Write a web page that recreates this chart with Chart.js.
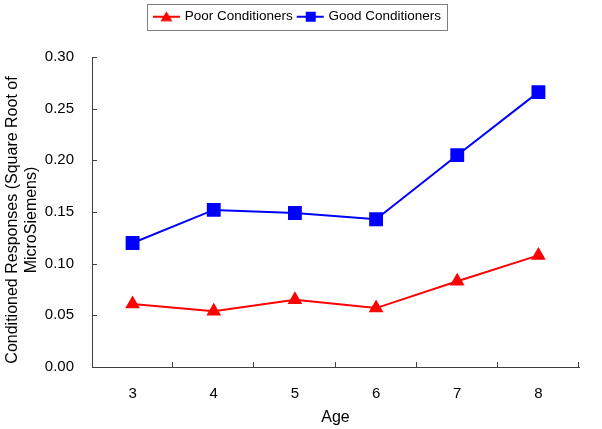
<!DOCTYPE html>
<html>
<head>
<meta charset="utf-8">
<script src="https://cdn.jsdelivr.net/npm/chart.js@4/dist/chart.umd.min.js"></script>
<style>
html,body{margin:0;padding:0;background:#fff;}
#wrap{width:602px;height:429px;}
</style>
</head>
<body>
<div id="wrap"><canvas id="c"></canvas></div>
<script>
const ages = ['3', '4', '5', '6', '7', '8'];
const poorConditioners = [0.061, 0.054, 0.065, 0.057, 0.083, 0.108];
const goodConditioners = [0.120, 0.152, 0.149, 0.143, 0.205, 0.266];
const seriesNames = ['Poor Conditioners', 'Good Conditioners'];
const yTitle = ['Conditioned Responses (Square Root of', 'MicroSiemens)'];
const xTitle = 'Age';

const FONT = 'Liberation Sans, Arial, sans-serif';

function legendIcon(color, shape) {
  const cv = document.createElement('canvas');
  cv.width = 30; cv.height = 14;
  const g = cv.getContext('2d');
  g.strokeStyle = color; g.lineWidth = 2;
  g.beginPath(); g.moveTo(1, 7); g.lineTo(28, 7); g.stroke();
  g.fillStyle = color;
  g.beginPath();
  if (shape === 'triangle') {
    g.moveTo(14.5, 1.5); g.lineTo(20.5, 11.5); g.lineTo(8.5, 11.5); g.closePath();
  } else {
    g.rect(10, 2, 10, 10);
  }
  g.fill();
  return cv;
}

const innerTicks = {
  id: 'innerTicks',
  beforeLayout(chart) {
    const lg = chart.legend;
    if (lg && !lg._patched) {
      const f = lg.fit.bind(lg);
      lg.fit = function () { f(); this.height = 54; };
      lg._patched = true;
    }
  },
  afterLayout(chart) {
    const lg = chart.legend;
    if (lg) { lg.left += 9; lg.right += 9; }
    const ys = chart.scales.y;
    if (ys && !ys._patchedTitle) {
      const d = ys.drawTitle.bind(ys);
      ys.drawTitle = function () {
        const c = this.ctx; c.save(); c.translate(0, 8); d(); c.restore();
      };
      ys._patchedTitle = true;
    }
  },
  afterDraw(chart) {
    const ctx = chart.ctx;
    const x = chart.scales.x, y = chart.scales.y;
    ctx.save();
    ctx.strokeStyle = '#404040';
    ctx.lineWidth = 1;
    ctx.beginPath();
    const n = x.ticks.length;
    for (let i = 1; i <= n; i++) {
      const px = Math.round(x.left + i * (x.width / n)) - 0.5;
      ctx.moveTo(px, x.top); ctx.lineTo(px, x.top - 5);
    }
    y.ticks.forEach(t => {
      const py = Math.round(y.getPixelForValue(t.value)) + 0.5;
      ctx.moveTo(y.right, py); ctx.lineTo(y.right + 5, py);
    });
    ctx.stroke();
    const lg = chart.legend;
    if (lg && lg.legendHitBoxes && lg.legendHitBoxes.length) {
      const hb = lg.legendHitBoxes;
      const l = hb[0].left - 9, r = hb[hb.length - 1].left + hb[hb.length - 1].width + 6;
      ctx.strokeStyle = '#7f7f7f';
      ctx.strokeRect(Math.round(l) + 0.5, 4.5, Math.round(r - l), 26);
    }
    ctx.restore();
  }
};

new Chart(document.getElementById('c'), {
  type: 'line',
  data: {
    labels: ages,
    datasets: [
      {
        label: seriesNames[0], data: poorConditioners,
        borderColor: '#ff0000', backgroundColor: '#ff0000', borderWidth: 2,
        pointStyle: 'triangle', pointRadius: 8.5, pointHoverRadius: 8.5, pointBorderWidth: 0,
        tension: 0
      },
      {
        label: seriesNames[1], data: goodConditioners,
        borderColor: '#0000ff', backgroundColor: '#0000ff', borderWidth: 2,
        pointStyle: 'rect', pointRadius: 9.8, pointHoverRadius: 9.8, pointBorderWidth: 0,
        tension: 0
      }
    ]
  },
  options: {
    responsive: true,
    maintainAspectRatio: false,
    animation: false,
    layout: { padding: { left: 0, right: 23, top: 3, bottom: 0 } },
    plugins: {
      tooltip: { enabled: false },
      legend: {
        position: 'top',
        labels: {
          usePointStyle: true,
          pointStyleWidth: 22,
          padding: 7,
          color: '#000',
          font: { family: FONT, size: 13.5 },
          generateLabels(chart) {
            return chart.data.datasets.map((ds, i) => ({
              text: ds.label,
              pointStyle: legendIcon(ds.borderColor, i === 0 ? 'triangle' : 'rect'),
              fillStyle: ds.borderColor, strokeStyle: ds.borderColor,
              lineWidth: 0, hidden: false, datasetIndex: i, fontColor: '#000'
            }));
          }
        }
      }
    },
    scales: {
      x: {
        offset: true,
        grid: { display: false, drawTicks: false },
        border: { display: true, color: '#404040', width: 1 },
        ticks: { color: '#000', padding: 18, font: { family: FONT, size: 15 } },
        title: { display: true, text: xTitle, color: '#000', font: { family: FONT, size: 16 }, padding: { top: 4, bottom: 2 } },
        afterFit(s) { s.height = 62; }
      },
      y: {
        min: 0, max: 0.3,
        grid: { display: false, drawTicks: false },
        border: { display: true, color: '#404040', width: 1 },
        ticks: {
          stepSize: 0.05, color: '#000', padding: 18,
          font: { family: FONT, size: 15 },
          callback: v => Number(v).toFixed(2)
        },
        title: { display: true, text: yTitle, color: '#000', font: { family: FONT, size: 16 }, padding: { top: 3, bottom: 0 } },
        afterFit(s) { s.width = 92; }
      }
    }
  },
  plugins: [innerTicks]
});
</script>
</body>
</html>
